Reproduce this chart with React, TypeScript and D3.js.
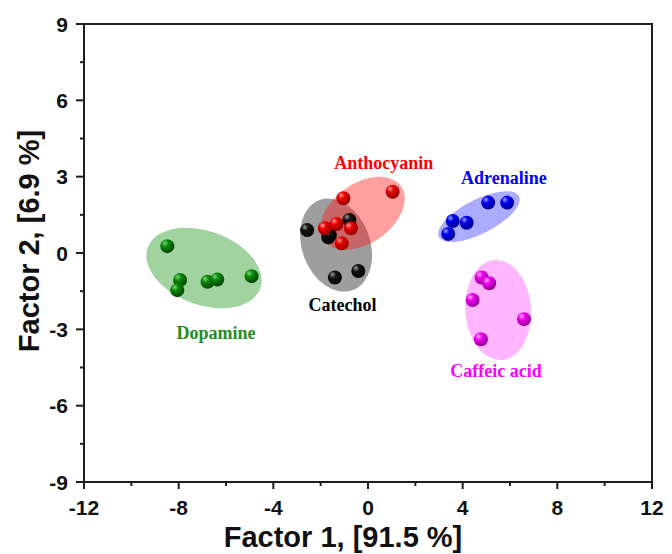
import React from "react";
import * as d3 from "d3";

// ---------- data ----------
const xTickValues = [-12, -8, -4, 0, 4, 8, 12];
const yTickValues = [-9, -6, -3, 0, 3, 6, 9];
const xMinorTicks = [-10, -6, -2, 2, 6, 10];
const yMinorTicks = [-7.5, -4.5, -1.5, 1.5, 4.5, 7.5];

const dopamineX = [-8.48, -7.94, -8.06, -6.78, -6.37, -4.92];
const dopamineY = [0.27, -1.06, -1.46, -1.13, -1.04, -0.91];

const catecholX = [-2.57, -1.68, -0.79, -1.61, -1.4, -0.41];
const catecholY = [0.9, 0.62, 1.3, 0.71, -0.96, -0.71];

const anthocyaninX = [-1.04, 1.04, -1.82, -1.33, -0.72, -1.11];
const anthocyaninY = [2.15, 2.41, 0.97, 1.14, 0.97, 0.38];

const adrenalineX = [5.08, 5.88, 3.58, 4.17, 3.39];
const adrenalineY = [1.98, 1.98, 1.26, 1.19, 0.75];

const caffeicX = [4.8, 5.12, 4.42, 6.59, 4.77];
const caffeicY = [-0.96, -1.19, -1.85, -2.6, -3.39];

const groupNames = ["Dopamine", "Catechol", "Anthocyanin", "Adrenaline", "Caffeic acid"];
// confidence ellipse: centre (data units), semi-axes (data units), rotation (deg)
const ellipseCx = [-6.93, -1.35, -0.23, 4.69, 5.5];
const ellipseCy = [-0.59, 0.31, 1.56, 1.43, -2.24];
const ellipseRx = [2.53, 1.44, 1.99, 1.9, 1.39];
const ellipseRy = [1.45, 1.89, 1.18, 0.67, 1.97];
const ellipseAngle = [20, -20, -35, -27, -4];
const labelX = [-6.42, -1.08, 0.67, 5.74, 5.41];
const labelY = [-3.15, -2.05, 3.54, 2.93, -4.64];

// ---------- styles ----------
const W = 672;
const H = 554;
const margin = { left: 84, right: 20, top: 24, bottom: 72 };
const colors = [
  { fill: "#129212", text: "#1f8f1f", hi: "#7fd67f", mid: "#0b8a0b", dark: "#003f00" },
  { fill: "#000000", text: "#000000", hi: "#9a9a9a", mid: "#141414", dark: "#000000" },
  { fill: "#ff1a1a", text: "#ff0000", hi: "#ffa0a0", mid: "#ec0000", dark: "#8a0000" },
  { fill: "#1a1aff", text: "#0000ff", hi: "#a0a0ff", mid: "#0000ee", dark: "#00008a" },
  { fill: "#ff33ff", text: "#ff00ff", hi: "#ffb0ff", mid: "#f000f0", dark: "#8a008a" },
];
const fillOpacity = [0.4, 0.38, 0.42, 0.37, 0.36];

export default function App() {
  const x = d3.scaleLinear().domain([-12, 12]).range([margin.left, W - margin.right]);
  const y = d3.scaleLinear().domain([-9, 9]).range([H - margin.bottom, margin.top]);
  const pxX = Math.abs(x(1) - x(0));
  const pxY = Math.abs(y(1) - y(0));

  const groups = groupNames.map((name, i) => {
    const xs = [dopamineX, catecholX, anthocyaninX, adrenalineX, caffeicX][i];
    const ys = [dopamineY, catecholY, anthocyaninY, adrenalineY, caffeicY][i];
    return {
      name,
      points: xs.map((v, j) => ({ x: v, y: ys[j] })),
      ex: ellipseCx[i],
      ey: ellipseCy[i],
      erx: ellipseRx[i],
      ery: ellipseRy[i],
      ea: ellipseAngle[i],
      lx: labelX[i],
      ly: labelY[i],
      c: colors[i],
      op: fillOpacity[i],
    };
  });

  const [x0, x1] = x.range();
  const [yb, yt] = y.range();
  const axisColor = "#1e1e1e";
  const tickFont = "'Liberation Sans', Arial, sans-serif";

  return (
    <svg
      width={W}
      height={H}
      style={{ position: "absolute", left: 0, top: 0, background: "#fff" }}
    >
      <defs>
        {groups.map((g, i) => (
          <radialGradient key={i} id={`sph${i}`} cx="0.38" cy="0.34" r="0.7" fx="0.32" fy="0.28">
            <stop offset="0" stopColor={g.c.hi} />
            <stop offset="0.35" stopColor={g.c.mid} />
            <stop offset="1" stopColor={g.c.dark} />
          </radialGradient>
        ))}
      </defs>
      <rect x={0} y={0} width={W} height={H} fill="#fff" />

      {/* ellipses */}
      {groups.map((g, i) => (
        <ellipse
          key={"e" + i}
          cx={x(g.ex)}
          cy={y(g.ey)}
          rx={g.erx * pxX}
          ry={g.ery * pxY}
          transform={`rotate(${g.ea} ${x(g.ex)} ${y(g.ey)})`}
          fill={g.c.fill}
          fillOpacity={g.op}
        />
      ))}

      {/* points */}
      {groups.map((g, i) =>
        g.points.map((p, j) => (
          <circle key={`p${i}-${j}`} cx={x(p.x)} cy={y(p.y)} r={7} fill={`url(#sph${i})`} />
        ))
      )}

      {/* labels */}
      {groups.map((g, i) => (
        <text
          key={"l" + i}
          x={x(g.lx)}
          y={y(g.ly)}
          textAnchor="middle"
          dominantBaseline="central"
          fontFamily="'Liberation Serif', 'Times New Roman', serif"
          fontWeight="bold"
          fontSize={18}
          fill={g.c.text}
        >
          {g.name}
        </text>
      ))}

      {/* frame */}
      <rect x={x0} y={yt} width={x1 - x0} height={yb - yt} fill="none" stroke={axisColor} strokeWidth={2} />

      {/* x ticks */}
      {xTickValues.map((t) => (
        <g key={"xt" + t}>
          <line x1={x(t)} x2={x(t)} y1={yb} y2={yb + 7} stroke={axisColor} strokeWidth={2} />
          <text
            x={x(t)}
            y={yb + 33}
            textAnchor="middle"
            fontFamily={tickFont}
            fontWeight="bold"
            fontSize={21}
            fill="#111"
          >
            {t}
          </text>
        </g>
      ))}
      {xMinorTicks.map((t) => (
        <line key={"xm" + t} x1={x(t)} x2={x(t)} y1={yb} y2={yb + 4} stroke={axisColor} strokeWidth={2} />
      ))}

      {/* y ticks */}
      {yTickValues.map((t) => (
        <g key={"yt" + t}>
          <line x1={x0 - 8} x2={x0} y1={y(t)} y2={y(t)} stroke={axisColor} strokeWidth={2} />
          <text
            x={x0 - 16}
            y={y(t)}
            textAnchor="end"
            dominantBaseline="central"
            fontFamily={tickFont}
            fontWeight="bold"
            fontSize={21}
            fill="#111"
          >
            {t}
          </text>
        </g>
      ))}
      {yMinorTicks.map((t) => (
        <line key={"ym" + t} x1={x0 - 4} x2={x0} y1={y(t)} y2={y(t)} stroke={axisColor} strokeWidth={2} />
      ))}

      {/* axis titles */}
      <text
        x={343}
        y={547}
        textAnchor="middle"
        fontFamily={tickFont}
        fontWeight="bold"
        fontSize={29}
        fill="#111"
      >
        Factor 1, [91.5 %]
      </text>
      <text
        transform={`translate(39 ${241}) rotate(-90)`}
        textAnchor="middle"
        fontFamily={tickFont}
        fontWeight="bold"
        fontSize={29}
        fill="#111"
      >
        Factor 2, [6.9 %]
      </text>
    </svg>
  );
}
